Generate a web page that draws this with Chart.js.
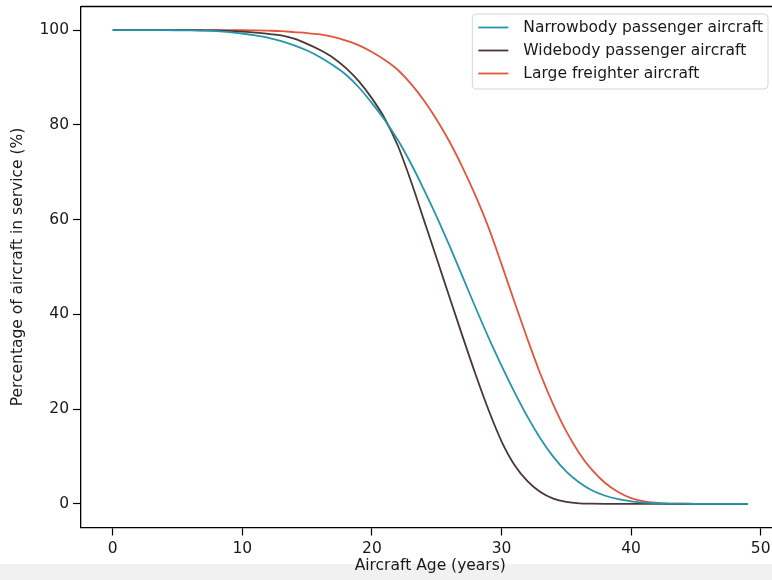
<!DOCTYPE html>
<html>
<head>
<meta charset="utf-8">
<script src="https://cdn.jsdelivr.net/npm/chart.js@4/dist/chart.umd.min.js"></script>
<style>
  html, body { margin: 0; padding: 0; background: #ffffff; overflow: hidden; width: 772px; height: 580px; }
  #wrap { position: relative; width: 800px; height: 580px; }
  #band { position: absolute; left: 0; bottom: 0; width: 800px; height: 16px; background: #f1f1f1; }
  #chart { position: absolute; left: 0; top: 0; }
</style>
</head>
<body>
<div id="wrap">
  <div id="band"></div>
  <canvas id="chart" width="800" height="580"></canvas>
</div>
<script>
// Aircraft age in years
const ages = [0, 1, 2, 3, 4, 5, 6, 7, 8, 9,
              10, 11, 12, 13, 14, 15, 16, 17, 18, 19,
              20, 21, 22, 23, 24, 25, 26, 27, 28, 29,
              30, 31, 32, 33, 34, 35, 36, 37, 38, 39,
              40, 41, 42, 43, 44, 45, 46, 47, 48, 49];

// Share of each fleet still in service (%)
const narrowbody = [100, 100, 100, 100, 100, 99.98, 99.95, 99.9, 99.8, 99.6,
                    99.3, 98.9, 98.4, 97.7, 96.8, 95.7, 94.3, 92.6, 90.6, 87.9,
                    84.6, 81.0, 76.8, 71.9, 66.4, 60.6, 54.4, 47.9, 41.4, 35.1,
                    29.2, 23.6, 18.4, 13.8, 9.9, 6.8, 4.5, 2.8, 1.7, 0.97,
                    0.52, 0.26, 0.12, 0.05, 0.02, 0, 0, 0, 0, 0];

const widebody = [100, 100, 100, 100, 100, 100, 100, 99.98, 99.95, 99.85,
                  99.7, 99.5, 99.2, 98.9, 98.2, 97.1, 95.8, 94.2, 92.0, 89.2,
                  85.6, 81.3, 75.6, 68.2, 60.0, 51.8, 43.5, 35.3, 27.3, 19.8,
                  13.2, 8.2, 4.8, 2.5, 1.1, 0.4, 0.1, 0.03, 0, 0,
                  0, 0, 0, 0, 0, 0, 0, 0, 0, 0];

const freighter = [100, 100, 100, 100, 100, 100, 100, 100, 100, 100,
                   100, 99.98, 99.9, 99.8, 99.6, 99.4, 99.1, 98.6, 97.8, 96.8,
                   95.4, 93.7, 91.6, 88.7, 85.2, 81.1, 76.4, 71.0, 65.0, 58.3,
                   50.6, 42.6, 34.8, 27.4, 20.9, 15.3, 10.7, 7.1, 4.4, 2.5,
                   1.2, 0.5, 0.2, 0.05, 0.01, 0, 0, 0, 0, 0];

const seriesNames = ['Narrowbody passenger aircraft', 'Widebody passenger aircraft', 'Large freighter aircraft'];
const seriesColors = ['#2496ac', '#4a3834', '#e4553b'];

const xTicks = [0, 10, 20, 30, 40, 50];
const yTicks = [0, 20, 40, 60, 80, 100];

const xTitle = 'Aircraft Age (years)';
const yTitle = 'Percentage of aircraft in service (%)';

const FONT = 'DejaVu Sans';
const FONT_SIZE = 15.5;
const INK = '#1a1a1a';

function toPoints(values) {
  return ages.map((a, i) => ({ x: a, y: values[i] }));
}

const seriesValues = [narrowbody, widebody, freighter];
const datasets = seriesValues.map((vals, i) => ({
  label: seriesNames[i],
  data: toPoints(vals),
  borderColor: seriesColors[i],
  backgroundColor: seriesColors[i],
  borderWidth: 1.8,
  pointRadius: 0,
  cubicInterpolationMode: 'monotone',
  fill: false
}));

// Box around the plotting area (top and right spines)
const frame = {
  id: 'frame',
  afterDatasetsDraw(chart) {
    const { ctx, chartArea: ca } = chart;
    ctx.save();
    ctx.strokeStyle = '#000';
    ctx.lineWidth = 1.3;
    ctx.beginPath();
    ctx.moveTo(ca.left, ca.top);
    ctx.lineTo(ca.right, ca.top);
    ctx.lineTo(ca.right, ca.bottom);
    ctx.stroke();
    ctx.restore();
  }
};

// Framed legend in the upper right corner of the plot
const boxedLegend = {
  id: 'boxedLegend',
  afterDraw(chart) {
    const { ctx } = chart;
    ctx.save();
    ctx.font = FONT_SIZE + 'px "' + FONT + '"';
    const textW = Math.max(...seriesNames.map(n => ctx.measureText(n).width));
    const padL = 6, handle = 30, gap = 15, padR = 5;
    const w = padL + handle + gap + textW + padR;
    const h = 75;
    const right = 768;
    const x = right - w;
    const y = 14;
    const r = 4;
    ctx.beginPath();
    ctx.moveTo(x + r, y);
    ctx.lineTo(x + w - r, y);
    ctx.arcTo(x + w, y, x + w, y + r, r);
    ctx.lineTo(x + w, y + h - r);
    ctx.arcTo(x + w, y + h, x + w - r, y + h, r);
    ctx.lineTo(x + r, y + h);
    ctx.arcTo(x, y + h, x, y + h - r, r);
    ctx.lineTo(x, y + r);
    ctx.arcTo(x, y, x + r, y, r);
    ctx.closePath();
    ctx.fillStyle = 'rgba(255,255,255,0.85)';
    ctx.fill();
    ctx.strokeStyle = '#d6d6d6';
    ctx.lineWidth = 1;
    ctx.stroke();

    ctx.textBaseline = 'middle';
    ctx.textAlign = 'left';
    seriesNames.forEach((name, i) => {
      const cy = y + 13.5 + i * 23;
      ctx.strokeStyle = seriesColors[i];
      ctx.lineWidth = 1.8;
      ctx.beginPath();
      ctx.moveTo(x + padL, cy);
      ctx.lineTo(x + padL + handle, cy);
      ctx.stroke();
      ctx.fillStyle = INK;
      ctx.fillText(name, x + padL + handle + gap, cy);
    });
    ctx.restore();
  }
};

new Chart(document.getElementById('chart'), {
  type: 'line',
  data: { datasets },
  options: {
    responsive: false,
    animation: false,
    devicePixelRatio: 1,
    layout: { padding: { top: 6.5, right: 20.5, left: 0, bottom: 0 } },
    plugins: {
      legend: { display: false },
      tooltip: { enabled: false }
    },
    scales: {
      x: {
        type: 'linear',
        min: -2.45,
        max: 51.45,
        afterBuildTicks(scale) { scale.ticks = xTicks.map(v => ({ value: v })); },
        afterFit(scale) { scale.height = 52.5; },
        grid: { display: true, drawOnChartArea: false, drawTicks: true, tickLength: 8, tickWidth: 1.2, tickColor: '#000' },
        border: { display: true, color: '#000', width: 1.3 },
        ticks: { color: INK, padding: 4, maxRotation: 0, font: { family: FONT, size: FONT_SIZE } },
        title: { display: true, text: xTitle, color: INK, padding: { top: 0, bottom: 5 }, font: { family: FONT, size: FONT_SIZE } }
      },
      y: {
        type: 'linear',
        min: -5,
        max: 105,
        afterBuildTicks(scale) { scale.ticks = yTicks.map(v => ({ value: v })); },
        afterFit(scale) {
          scale.width = 81;
          scale.paddingTop = 0;
          scale.paddingBottom = 0;
        },
        grid: { display: true, drawOnChartArea: false, drawTicks: true, tickLength: 8, tickWidth: 1.2, tickColor: '#000' },
        border: { display: true, color: '#000', width: 1.3 },
        ticks: { color: INK, padding: 4, font: { family: FONT, size: FONT_SIZE } },
        title: { display: true, text: yTitle, color: INK, padding: { top: 8.7, bottom: 0 }, font: { family: FONT, size: FONT_SIZE } }
      }
    }
  },
  plugins: [frame, boxedLegend]
});
</script>
</body>
</html>
